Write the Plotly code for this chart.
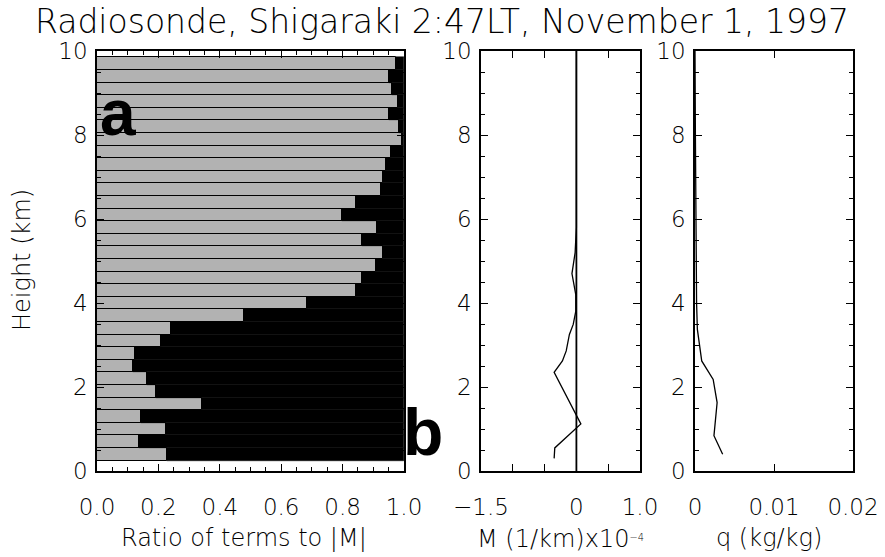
import plotly.graph_objects as go

# ---------------- data ----------------
# Panel a: bar heights (km) and ratio of the first term to |M|
bar_heights = [0.4, 0.7, 1.0, 1.3, 1.6, 1.9, 2.2, 2.5, 2.8, 3.1, 3.4, 3.7, 4.0, 4.3,
               4.6, 4.9, 5.2, 5.5, 5.8, 6.1, 6.4, 6.7, 7.0, 7.3, 7.6, 7.9, 8.2, 8.5,
               8.8, 9.1, 9.4, 9.7]
ratio = [0.227, 0.136, 0.225, 0.142, 0.341, 0.192, 0.164, 0.116, 0.124, 0.21, 0.24,
         0.48, 0.683, 0.844, 0.862, 0.909, 0.933, 0.864, 0.911, 0.797, 0.844, 0.925,
         0.933, 0.941, 0.958, 0.992, 0.985, 0.952, 0.981, 0.96, 0.952, 0.974]
other = [round(1.0 - r, 3) for r in ratio]

# Panel M profile
m_height = [0.3, 0.55, 1.12, 2.35, 2.62, 2.86, 3.25, 3.49, 3.8, 4.2, 4.7, 5.2, 5.8, 7.0, 8.5, 10.0]
m_value = [-0.35, -0.34, 0.07, -0.35, -0.22, -0.16, -0.11, -0.05, -0.01, -0.01, -0.07,
           -0.02, 0.0, 0.0, 0.0, 0.0]

# Panel q profile
q_height = [0.4, 0.84, 1.63, 2.18, 2.62, 3.37, 4.0, 6.0, 8.0, 10.0]
q_value = [0.0035, 0.0024, 0.0028, 0.0023, 0.00085, 0.0003, 0.0002, 0.0001, 0.00005, 0.0]

y_ticks = [0, 2, 4, 6, 8, 10]
x1_ticks = [0.0, 0.2, 0.4, 0.6, 0.8, 1.0]
x1_labels = ["0.0", "0.2", "0.4", "0.6", "0.8", "1.0"]
x2_ticks = [-1.5, -1.0, -0.5, 0.0, 0.5, 1.0]
x2_labels = ["\u22121.5", "", "", "0", "", "1.0"]
x3_ticks = [0.0, 0.01, 0.02]
x3_labels = ["0", "0.01", "0.02"]

title_text = "Radiosonde, Shigaraki 2:47LT, November 1, 1997"

# ---------------- figure ----------------
W, H = 885, 557
FONT = "DejaVu Sans"

fig = go.Figure()

fig.add_trace(go.Bar(
    orientation="h", y=bar_heights, x=ratio, width=0.3,
    marker=dict(color="#b2b2b2", line=dict(color="black", width=1)),
    xaxis="x", yaxis="y", showlegend=False))
fig.add_trace(go.Bar(
    orientation="h", y=bar_heights, x=other, base=ratio, width=0.3,
    marker=dict(color="black", line=dict(color="black", width=0.5)),
    xaxis="x", yaxis="y", showlegend=False))

fig.add_trace(go.Scatter(x=m_value, y=m_height, mode="lines",
                         line=dict(color="black", width=1.3),
                         xaxis="x2", yaxis="y2", showlegend=False))
fig.add_trace(go.Scatter(x=q_value, y=q_height, mode="lines",
                         line=dict(color="black", width=1.3),
                         xaxis="x3", yaxis="y3", showlegend=False))

fig.add_shape(type="line", xref="x2", yref="y2 domain", x0=0, x1=0, y0=0, y1=1,
              line=dict(color="black", width=1.8))

def px_x(p):
    return p / W

def px_y(p):
    return 1 - p / H

y_dom = [px_y(471), px_y(51)]
tickfont = dict(family=FONT, size=23, color="black", weight=200)

common_axis = dict(showline=True, linecolor="black", linewidth=1.5, mirror="allticks",
                   ticks="inside", tickcolor="black", showgrid=False, zeroline=False,
                   tickfont=tickfont, automargin=False)

xa_common = dict(common_axis, ticklen=7, tickwidth=1.2, ticklabelstandoff=15)
ya_common = dict(common_axis, range=[0, 10], tickvals=y_ticks, ticklen=7, tickwidth=1.2,
                 ticklabelstandoff=3, domain=y_dom,
                 minor=dict(dtick=0.5, ticks="inside", ticklen=4, tickcolor="black"))

fig.update_layout(
    width=W, height=H,
    margin=dict(l=0, r=0, t=0, b=0),
    paper_bgcolor="white", plot_bgcolor="white",
    barmode="overlay", bargap=0,
    font=dict(family=FONT, color="black"),
    xaxis=dict(xa_common, domain=[px_x(97), px_x(404)], range=[0, 1.0],
               tickvals=x1_ticks, ticktext=x1_labels, anchor="y",
               minor=dict(dtick=0.05, ticks="inside", ticklen=4, tickcolor="black")),
    yaxis=dict(ya_common, anchor="x"),
    xaxis2=dict(xa_common, domain=[px_x(481), px_x(640)], range=[-1.5, 1.0],
                tickvals=x2_ticks, ticktext=x2_labels, anchor="y2"),
    yaxis2=dict(ya_common, anchor="x2"),
    xaxis3=dict(xa_common, domain=[px_x(695), px_x(853)], range=[0, 0.02],
                tickvals=x3_ticks, ticktext=x3_labels, anchor="y3"),
    yaxis3=dict(ya_common, anchor="x3"),
    title=dict(text=title_text, x=px_x(442), xanchor="center", y=px_y(21),
               yanchor="middle", automargin=False,
               font=dict(family=FONT, size=33, color="black", weight=200)),
)

lab_font = dict(family=FONT, size=24, color="black", weight=200)
annots = [
    dict(text="Height (km)", x=px_x(22), y=px_y(260), textangle=-90, font=lab_font),
    dict(text="Ratio of terms to |M|", x=px_x(244), y=px_y(538), font=lab_font),
    dict(text="M (1/km)x10<span style='font-size:14px'><sup>\u22124</sup></span>",
         x=px_x(560), y=px_y(539), font=lab_font),
    dict(text="q (kg/kg)", x=px_x(769), y=px_y(538), font=lab_font),
    dict(text="<b>a</b>", x=px_x(118), y=px_y(113),
         font=dict(family="Liberation Sans", size=64, color="black")),
    dict(text="<b>b</b>", x=px_x(423), y=px_y(432),
         font=dict(family="Liberation Sans", size=66, color="black")),
]
for a in annots:
    a.update(xref="paper", yref="paper", showarrow=False, xanchor="center", yanchor="middle")
fig.update_layout(annotations=annots)

fig.write_html("out.html")
